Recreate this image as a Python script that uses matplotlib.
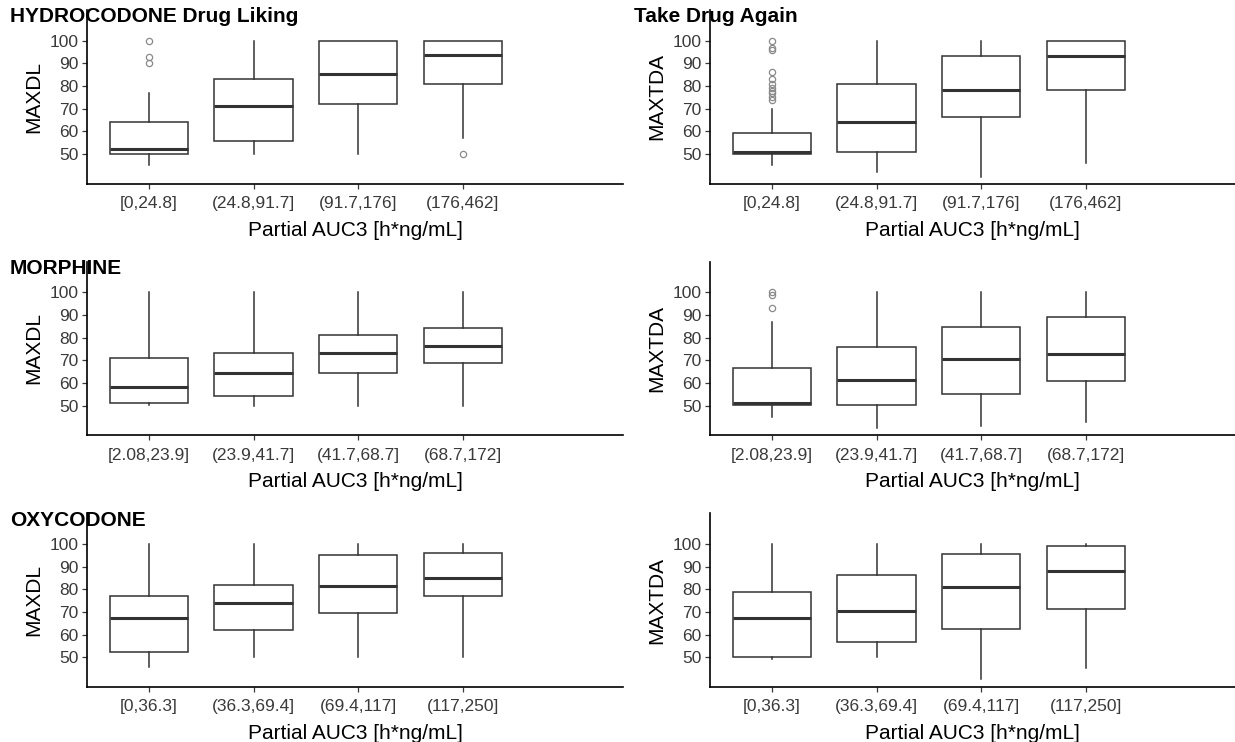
import matplotlib
matplotlib.use("Agg")
import matplotlib.pyplot as plt

plt.rcParams["font.family"] = ["Liberation Sans", "DejaVu Sans"]

# ===== data =====
HYD_CATS = ["[0,24.8]", "(24.8,91.7]", "(91.7,176]", "(176,462]"]
MOR_CATS = ["[2.08,23.9]", "(23.9,41.7]", "(41.7,68.7]", "(68.7,172]"]
OXY_CATS = ["[0,36.3]", "(36.3,69.4]", "(69.4,117]", "(117,250]"]

# each box: (whisker low, q1, median, q3, whisker high)
HYD_DL = [(45.1, 50.0, 52.4, 64.0, 76.8), (50.0, 55.9, 71.2, 83.1, 100.0),
          (50.0, 71.9, 85.1, 100.0, 100.0), (57.2, 81.0, 93.7, 100.0, 100.0)]
HYD_DL_OUT = [[100, 93, 90], [], [], [50]]

HYD_DA = [(45.1, 50.0, 51.0, 59.4, 70.0), (42.1, 51.0, 64.1, 80.7, 100.0),
          (40.0, 66.2, 78.2, 93.2, 100.0), (46.2, 78.2, 93.2, 100.0, 100.0)]
HYD_DA_OUT = [[100, 97, 96, 86, 83, 81, 79, 78, 77, 75, 74], [], [], []]

MOR_DL = [(50.3, 51.0, 58.2, 71.2, 100.0), (50.0, 54.1, 64.3, 73.1, 100.0),
          (50.0, 64.3, 73.4, 81.3, 100.0), (50.0, 69.0, 76.2, 84.1, 100.0)]
MOR_DL_OUT = [[], [], [], []]

MOR_DA = [(45.1, 50.1, 51.2, 66.8, 87.1), (40.3, 50.1, 61.2, 75.9, 100.0),
          (41.2, 55.0, 70.7, 84.9, 100.0), (42.9, 60.7, 72.6, 89.0, 100.0)]
MOR_DA_OUT = [[100, 99, 93], [], [], []]

OXY_DL = [(45.9, 52.2, 67.2, 77.2, 100.0), (50.0, 61.9, 73.8, 81.9, 100.0),
          (50.0, 69.6, 81.3, 95.0, 100.0), (50.0, 77.2, 85.1, 95.9, 100.0)]
OXY_DL_OUT = [[], [], [], []]

OXY_DA = [(49.3, 50.0, 67.2, 79.0, 100.0), (50.0, 56.9, 70.6, 86.3, 100.0),
          (40.3, 62.5, 81.2, 95.7, 100.0), (45.3, 71.2, 88.1, 99.1, 99.9)]
OXY_DA_OUT = [[], [], [], []]

TITLES = ["HYDROCODONE Drug Liking", "Take Drug Again", "MORPHINE", "", "OXYCODONE", ""]
YLABELS = ["MAXDL", "MAXTDA"]
XLABEL = "Partial AUC3 [h*ng/mL]"

# ===== layout (pixels) =====
W, H = 1235, 742
PX_PER_UNIT_Y = 2.267
PX_PER_CAT = 104.6
YLIM = (37.0, 113.5)
ROW_Y100 = [40.7, 292.3, 544.0]      # pixel row of the 100 gridline
COL_X = [(87, 623), (710, 1235)]      # axis left / right in pixels
YLAB_X = [43, 666]                    # right edge of the rotated y label
TITLE_Y = [17, 268, 520]
TITLE_X = [10, 634]

EDGE = "#333333"
TICKC = "#3a3a3a"


def make_stats(boxes, outliers):
    stats = []
    for (lo, q1, med, q3, hi), fl in zip(boxes, outliers):
        stats.append(dict(whislo=lo, q1=q1, med=med, q3=q3, whishi=hi, fliers=fl))
    return stats


def draw_panel(fig, col, row, cats, boxes, outliers, title):
    x0, x1 = COL_X[col]
    top = ROW_Y100[row] - (YLIM[1] - 100) * PX_PER_UNIT_Y
    bot = ROW_Y100[row] + (100 - YLIM[0]) * PX_PER_UNIT_Y
    ax = fig.add_axes([x0 / W, 1 - bot / H, (x1 - x0) / W, (bot - top) / H])

    ax.bxp(make_stats(boxes, outliers), positions=[1, 2, 3, 4], widths=0.75,
           showcaps=False, patch_artist=True,
           boxprops=dict(facecolor="white", edgecolor=EDGE, linewidth=1.1),
           whiskerprops=dict(color=EDGE, linewidth=1.1),
           medianprops=dict(color=EDGE, linewidth=2.2),
           flierprops=dict(marker="o", markersize=4.5, markerfacecolor="none",
                           markeredgecolor="#8a8a8a", markeredgewidth=0.9))

    left = 1 - 62 / PX_PER_CAT
    ax.set_xlim(left, left + (x1 - x0) / PX_PER_CAT)
    ax.set_ylim(*YLIM)
    ax.set_yticks([50, 60, 70, 80, 90, 100])
    ax.set_xticks([1, 2, 3, 4])
    ax.set_xticklabels(cats)

    for s in ("top", "right"):
        ax.spines[s].set_visible(False)
    for s in ("left", "bottom"):
        ax.spines[s].set_linewidth(1.2)
        ax.spines[s].set_color("black")
    ax.tick_params(axis="both", length=3.5, width=0.9, color=TICKC,
                   labelcolor=TICKC, labelsize=12.5, pad=2.5)
    ax.tick_params(axis="x", pad=5.5)

    ax.set_xlabel(XLABEL, fontsize=15, color="black", labelpad=7)
    ax.set_ylabel(YLABELS[col], fontsize=15, color="black")
    ax.yaxis.set_label_coords((YLAB_X[col] - x0) / (x1 - x0), 0.5)

    if title:
        fig.text(TITLE_X[col] / W, 1 - TITLE_Y[row] / H, title, fontsize=15,
                 fontweight="bold", ha="left", va="center", color="black")
    return ax


fig = plt.figure(figsize=(W / 100, H / 100), dpi=100)

panels = [
    (0, 0, HYD_CATS, HYD_DL, HYD_DL_OUT),
    (1, 0, HYD_CATS, HYD_DA, HYD_DA_OUT),
    (0, 1, MOR_CATS, MOR_DL, MOR_DL_OUT),
    (1, 1, MOR_CATS, MOR_DA, MOR_DA_OUT),
    (0, 2, OXY_CATS, OXY_DL, OXY_DL_OUT),
    (1, 2, OXY_CATS, OXY_DA, OXY_DA_OUT),
]
for i, (col, row, cats, boxes, outs) in enumerate(panels):
    draw_panel(fig, col, row, cats, boxes, outs, TITLES[i])

fig.savefig("out.png", dpi=100)
